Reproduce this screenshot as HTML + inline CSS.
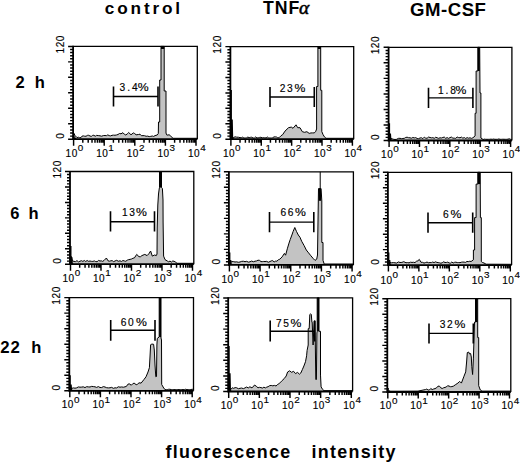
<!DOCTYPE html>
<html><head><meta charset="utf-8"><style>
html,body{margin:0;padding:0;background:#fff;width:520px;height:465px;overflow:hidden;position:relative}
</style></head><body>
<svg width="520" height="465" viewBox="0 0 520 465" style="position:absolute;left:0;top:0">
<g font-family='"Liberation Sans", sans-serif' font-weight="bold" fill="#000">
<text x="104.8" y="14" font-size="17.2" letter-spacing="2.85">control</text>
<text x="263.1" y="13.8" font-size="17.7" letter-spacing="0.9">TNF</text>
<text x="299" y="13.6" font-size="19.5" font-weight="normal" font-style="italic" stroke="#000" stroke-width="0.55" font-family="'Liberation Serif', serif">α</text>
<text x="409.9" y="15.8" font-size="18.6" letter-spacing="0.55">GM-CSF</text>
<text x="15.5" y="88" font-size="16.5">2</text><text x="34.8" y="88" font-size="16.5">h</text>
<text x="10.3" y="219.2" font-size="16.5">6</text><text x="28.6" y="219.2" font-size="16.5">h</text>
<text x="0.3" y="352.9" font-size="16.8" letter-spacing="0.8">22</text><text x="31.3" y="352.9" font-size="16.5">h</text>
<text x="165.6" y="458.3" font-size="17.9" letter-spacing="1.3">fluorescence</text>
<text x="311.4" y="458.3" font-size="17.9" letter-spacing="1.3">intensity</text>
</g>
<path d="M73.5,132.5 L75,135.5 L77,137.6 L78.33,137.21 L79.67,137.67 L81,137.6 L82.1,136.1 L83.42,135.89 L84.73,136.22 L86.05,136.24 L87.37,135.38 L88.68,135.29 L90,136 L91.3,136.39 L92.6,135.4 L93.9,135.24 L95.2,136.26 L96.5,135.4 L98.25,135.56 L100,135.8 L101.67,136.2 L103.33,135.56 L105,135.5 L106.4,135.67 L107.8,134.9 L109.2,135.58 L110.6,135.89 L112,135.3 L113.5,135.13 L115,135.26 L116.5,134.96 L118,134.5 L119.5,133.5 L121,133.8 L122.9,132.7 L124.35,134.24 L125.8,135 L127.25,133.89 L128.7,132.5 L131,134.8 L133.3,132.9 L134.7,133.55 L136.1,134.8 L138.5,134.5 L140,134.16 L141.5,135.78 L143,135.6 L144.57,135.73 L146.13,136.26 L147.7,136.1 L149.23,136.63 L150.77,136.35 L152.3,136 L153.65,136.43 L155,135.6 L157.2,135 L158.3,133.5 L158.5,122 L159.7,122 L159.7,80 L161,80 L161,46.4 L164.2,46.4 L164.2,91 L166,91 L166,133 L166.6,134.8 L168,135.2 L169,134.6 L170.7,136.1 L173,138.3 L197.3,138.3 L197.3,139.2 L73.5,139.2 Z" fill="#c3c3c3" stroke="none"/>
<path d="M73.5,132.5 L75,135.5 L77,137.6 L78.33,137.21 L79.67,137.67 L81,137.6 L82.1,136.1 L83.42,135.89 L84.73,136.22 L86.05,136.24 L87.37,135.38 L88.68,135.29 L90,136 L91.3,136.39 L92.6,135.4 L93.9,135.24 L95.2,136.26 L96.5,135.4 L98.25,135.56 L100,135.8 L101.67,136.2 L103.33,135.56 L105,135.5 L106.4,135.67 L107.8,134.9 L109.2,135.58 L110.6,135.89 L112,135.3 L113.5,135.13 L115,135.26 L116.5,134.96 L118,134.5 L119.5,133.5 L121,133.8 L122.9,132.7 L124.35,134.24 L125.8,135 L127.25,133.89 L128.7,132.5 L131,134.8 L133.3,132.9 L134.7,133.55 L136.1,134.8 L138.5,134.5 L140,134.16 L141.5,135.78 L143,135.6 L144.57,135.73 L146.13,136.26 L147.7,136.1 L149.23,136.63 L150.77,136.35 L152.3,136 L153.65,136.43 L155,135.6 L157.2,135 L158.3,133.5 L158.5,122 L159.7,122 L159.7,80 L161,80 L161,46.4 L164.2,46.4 L164.2,91 L166,91 L166,133 L166.6,134.8 L168,135.2 L169,134.6 L170.7,136.1 L173,138.3 L197.3,138.3" fill="none" stroke="#000" stroke-width="1" stroke-linejoin="round"/>
<rect x="161" y="46.4" width="3.2" height="2.6" fill="#000"/>
<path d="M72.7,135.2H74.6V137.6H75.5L75.9,138L76.7,139.2H72.7Z" fill="#000"/>
<path d="M73.1,46.4H197.3V139.2" fill="none" stroke="#000" stroke-width="1.3"/>
<path d="M73.1,45.8V139.2H197.3" fill="none" stroke="#000" stroke-width="1.8"/>
<path d="M73.1,139.2h-5 M73.1,136.11h-3 M73.1,133.01h-3 M73.1,129.92h-3 M73.1,126.83h-3 M73.1,123.73h-5 M73.1,120.64h-3 M73.1,117.55h-3 M73.1,114.45h-3 M73.1,111.36h-3 M73.1,108.27h-5 M73.1,105.17h-3 M73.1,102.08h-3 M73.1,98.99h-3 M73.1,95.89h-3 M73.1,92.8h-5 M73.1,89.71h-3 M73.1,86.61h-3 M73.1,83.52h-3 M73.1,80.43h-3 M73.1,77.33h-5 M73.1,74.24h-3 M73.1,71.15h-3 M73.1,68.05h-3 M73.1,64.96h-3 M73.1,61.87h-5 M73.1,58.77h-3 M73.1,55.68h-3 M73.1,52.59h-3 M73.1,49.49h-3 M73.1,46.4h-5 M73.6,139.2v6.5 M82.81,139.2v3.5 M88.2,139.2v3.5 M92.02,139.2v3.5 M94.99,139.2v3.5 M97.41,139.2v3.5 M99.46,139.2v3.5 M101.23,139.2v3.5 M102.8,139.2v3.5 M104.2,139.2v6.5 M113.41,139.2v3.5 M118.8,139.2v3.5 M122.62,139.2v3.5 M125.59,139.2v3.5 M128.01,139.2v3.5 M130.06,139.2v3.5 M131.83,139.2v3.5 M133.4,139.2v3.5 M134.8,139.2v6.5 M144.01,139.2v3.5 M149.4,139.2v3.5 M153.22,139.2v3.5 M156.19,139.2v3.5 M158.61,139.2v3.5 M160.66,139.2v3.5 M162.43,139.2v3.5 M164,139.2v3.5 M165.4,139.2v6.5 M174.61,139.2v3.5 M180,139.2v3.5 M183.82,139.2v3.5 M186.79,139.2v3.5 M189.21,139.2v3.5 M191.26,139.2v3.5 M193.03,139.2v3.5 M194.6,139.2v3.5 M196,139.2v6.5" stroke="#000" stroke-width="1.45" fill="none"/>
<text transform="translate(63.9,44.2) rotate(-90)" text-anchor="middle" font-family='"Liberation Sans", sans-serif' font-size="10" letter-spacing="0.6" fill="#000" stroke="#000" stroke-width="0.15">120</text>
<text transform="translate(63.9,136) rotate(-90)" text-anchor="middle" font-family='"Liberation Sans", sans-serif' font-size="10" fill="#000" stroke="#000" stroke-width="0.15">0</text>
<text x="65.6" y="156.7" font-family='"Liberation Sans", sans-serif' font-size="10" letter-spacing="0.5" fill="#000" stroke="#000" stroke-width="0.15">10<tspan dy="-5.7" font-size="9.9">0</tspan></text>
<text x="96.2" y="156.7" font-family='"Liberation Sans", sans-serif' font-size="10" letter-spacing="0.5" fill="#000" stroke="#000" stroke-width="0.15">10<tspan dy="-5.7" font-size="9.9">1</tspan></text>
<text x="126.8" y="156.7" font-family='"Liberation Sans", sans-serif' font-size="10" letter-spacing="0.5" fill="#000" stroke="#000" stroke-width="0.15">10<tspan dy="-5.7" font-size="9.9">2</tspan></text>
<text x="157.4" y="156.7" font-family='"Liberation Sans", sans-serif' font-size="10" letter-spacing="0.5" fill="#000" stroke="#000" stroke-width="0.15">10<tspan dy="-5.7" font-size="9.9">3</tspan></text>
<text x="188" y="156.7" font-family='"Liberation Sans", sans-serif' font-size="10" letter-spacing="0.5" fill="#000" stroke="#000" stroke-width="0.15">10<tspan dy="-5.7" font-size="9.9">4</tspan></text>
<path d="M113.5,86.6V106.6 M158,86.6V106.6" stroke="#000" stroke-width="1.6"/>
<path d="M113.5,96.5H158" stroke="#000" stroke-width="1.4"/>
<text x="119.5" y="90.8" font-family='"Liberation Sans", sans-serif' font-size="10.2" letter-spacing="2.0" fill="#000" stroke="#000" stroke-width="0.15">3.4</text>
<text transform="translate(137.8,90.8) scale(1.2,1)" font-family='"Liberation Sans", sans-serif' font-size="10.2" fill="#000" stroke="#000" stroke-width="0.15">%</text>
<path d="M232.5,138.3 L235,136.8 L236.67,137.17 L238.33,137.23 L240,137.6 L241.31,137.72 L242.61,137.16 L243.92,138 L245.23,138 L246.53,137.83 L247.84,137.09 L249.15,137.63 L250.45,137.34 L251.76,137.22 L253.07,138 L254.37,138 L255.68,136.92 L256.99,138 L258.29,137.75 L259.6,137.42 L260.91,137.28 L262.21,137.86 L263.52,137.54 L264.83,137.88 L266.13,137.84 L267.44,137.05 L268.75,138 L270.05,138 L271.36,138 L272.67,137.77 L273.97,136.92 L275.28,136.86 L276.59,137.05 L277.89,138 L279.2,137.6 L280.95,135.8 L282.7,134.6 L285,131.1 L288.5,127.7 L291.3,127.1 L293,128.3 L296,124.8 L297.7,127.7 L300,127.7 L302.3,131.7 L304.6,132.3 L306.9,131.7 L309.2,133.4 L310.95,132.95 L312.7,132.9 L314.15,132.9 L315.6,131.7 L316.6,129 L316.6,86.5 L317.9,86.5 L317.9,46.6 L320.7,46.6 L320.7,90.3 L321.8,90.3 L321.8,131.6 L323,134.5 L324.4,136.8 L326,138.3 L353.7,138.3 L353.7,139.2 L232.5,139.2 Z" fill="#c3c3c3" stroke="none"/>
<path d="M232.5,138.3 L235,136.8 L236.67,137.17 L238.33,137.23 L240,137.6 L241.31,137.72 L242.61,137.16 L243.92,138 L245.23,138 L246.53,137.83 L247.84,137.09 L249.15,137.63 L250.45,137.34 L251.76,137.22 L253.07,138 L254.37,138 L255.68,136.92 L256.99,138 L258.29,137.75 L259.6,137.42 L260.91,137.28 L262.21,137.86 L263.52,137.54 L264.83,137.88 L266.13,137.84 L267.44,137.05 L268.75,138 L270.05,138 L271.36,138 L272.67,137.77 L273.97,136.92 L275.28,136.86 L276.59,137.05 L277.89,138 L279.2,137.6 L280.95,135.8 L282.7,134.6 L285,131.1 L288.5,127.7 L291.3,127.1 L293,128.3 L296,124.8 L297.7,127.7 L300,127.7 L302.3,131.7 L304.6,132.3 L306.9,131.7 L309.2,133.4 L310.95,132.95 L312.7,132.9 L314.15,132.9 L315.6,131.7 L316.6,129 L316.6,86.5 L317.9,86.5 L317.9,46.6 L320.7,46.6 L320.7,90.3 L321.8,90.3 L321.8,131.6 L323,134.5 L324.4,136.8 L326,138.3 L353.7,138.3" fill="none" stroke="#000" stroke-width="1" stroke-linejoin="round"/>
<rect x="317.9" y="46.6" width="2.8" height="2.4" fill="#000"/>
<path d="M230,90H231.9V119.52H232.8L233.2,138L234,139.2H230Z" fill="#000"/>
<path d="M230.4,46.6H353.7V139.2" fill="none" stroke="#000" stroke-width="1.3"/>
<path d="M230.4,46V139.2H353.7" fill="none" stroke="#000" stroke-width="1.8"/>
<path d="M230.4,139.2h-5 M230.4,136.11h-3 M230.4,133.03h-3 M230.4,129.94h-3 M230.4,126.85h-3 M230.4,123.77h-5 M230.4,120.68h-3 M230.4,117.59h-3 M230.4,114.51h-3 M230.4,111.42h-3 M230.4,108.33h-5 M230.4,105.25h-3 M230.4,102.16h-3 M230.4,99.07h-3 M230.4,95.99h-3 M230.4,92.9h-5 M230.4,89.81h-3 M230.4,86.73h-3 M230.4,83.64h-3 M230.4,80.55h-3 M230.4,77.47h-5 M230.4,74.38h-3 M230.4,71.29h-3 M230.4,68.21h-3 M230.4,65.12h-3 M230.4,62.03h-5 M230.4,58.95h-3 M230.4,55.86h-3 M230.4,52.77h-3 M230.4,49.69h-3 M230.4,46.6h-5 M230.9,139.2v6.5 M240.04,139.2v3.5 M245.39,139.2v3.5 M249.19,139.2v3.5 M252.13,139.2v3.5 M254.54,139.2v3.5 M256.57,139.2v3.5 M258.33,139.2v3.5 M259.89,139.2v3.5 M261.27,139.2v6.5 M270.42,139.2v3.5 M275.77,139.2v3.5 M279.56,139.2v3.5 M282.51,139.2v3.5 M284.91,139.2v3.5 M286.94,139.2v3.5 M288.71,139.2v3.5 M290.26,139.2v3.5 M291.65,139.2v6.5 M300.79,139.2v3.5 M306.14,139.2v3.5 M309.94,139.2v3.5 M312.88,139.2v3.5 M315.29,139.2v3.5 M317.32,139.2v3.5 M319.08,139.2v3.5 M320.64,139.2v3.5 M322.02,139.2v6.5 M331.17,139.2v3.5 M336.52,139.2v3.5 M340.31,139.2v3.5 M343.26,139.2v3.5 M345.66,139.2v3.5 M347.69,139.2v3.5 M349.46,139.2v3.5 M351.01,139.2v3.5 M352.4,139.2v6.5" stroke="#000" stroke-width="1.45" fill="none"/>
<text transform="translate(221.2,44.4) rotate(-90)" text-anchor="middle" font-family='"Liberation Sans", sans-serif' font-size="10" letter-spacing="0.6" fill="#000" stroke="#000" stroke-width="0.15">120</text>
<text transform="translate(221.2,136) rotate(-90)" text-anchor="middle" font-family='"Liberation Sans", sans-serif' font-size="10" fill="#000" stroke="#000" stroke-width="0.15">0</text>
<text x="222.9" y="156.7" font-family='"Liberation Sans", sans-serif' font-size="10" letter-spacing="0.5" fill="#000" stroke="#000" stroke-width="0.15">10<tspan dy="-5.7" font-size="9.9">0</tspan></text>
<text x="253.27" y="156.7" font-family='"Liberation Sans", sans-serif' font-size="10" letter-spacing="0.5" fill="#000" stroke="#000" stroke-width="0.15">10<tspan dy="-5.7" font-size="9.9">1</tspan></text>
<text x="283.65" y="156.7" font-family='"Liberation Sans", sans-serif' font-size="10" letter-spacing="0.5" fill="#000" stroke="#000" stroke-width="0.15">10<tspan dy="-5.7" font-size="9.9">2</tspan></text>
<text x="314.02" y="156.7" font-family='"Liberation Sans", sans-serif' font-size="10" letter-spacing="0.5" fill="#000" stroke="#000" stroke-width="0.15">10<tspan dy="-5.7" font-size="9.9">3</tspan></text>
<text x="344.4" y="156.7" font-family='"Liberation Sans", sans-serif' font-size="10" letter-spacing="0.5" fill="#000" stroke="#000" stroke-width="0.15">10<tspan dy="-5.7" font-size="9.9">4</tspan></text>
<path d="M270,87.1V107.1 M314.3,87.1V107.1" stroke="#000" stroke-width="1.6"/>
<path d="M270,97H314.3" stroke="#000" stroke-width="1.4"/>
<text x="279.8" y="91.8" font-family='"Liberation Sans", sans-serif' font-size="10.2" letter-spacing="1.6" fill="#000" stroke="#000" stroke-width="0.15">23</text>
<text transform="translate(294.6,91.8) scale(1.2,1)" font-family='"Liberation Sans", sans-serif' font-size="10.2" fill="#000" stroke="#000" stroke-width="0.15">%</text>
<path d="M391,138.5 L392.33,138.87 L393.67,139.3 L395,139.5 L396.67,139.3 L398.33,138.38 L400,138.3 L401.43,138.63 L402.86,138.46 L404.29,138.33 L405.71,137.43 L407.14,137.23 L408.57,137.7 L410,137.8 L411.43,138.2 L412.86,137.49 L414.29,137.89 L415.71,137.64 L417.14,138.46 L418.57,138.64 L420,138 L421.43,137.78 L422.86,138.6 L424.29,137.13 L425.71,138.18 L427.14,138.21 L428.57,137.05 L430,137.5 L431.43,137.85 L432.86,137.67 L434.29,138.31 L435.71,137.24 L437.14,137.77 L438.57,138.33 L440,137.8 L441.43,137.98 L442.86,137.46 L444.29,137.09 L445.71,138.35 L447.14,137.62 L448.57,138.37 L450,137.6 L451.43,137.09 L452.86,138.13 L454.29,138.16 L455.71,138.34 L457.14,137.02 L458.57,137.58 L460,137.8 L461.43,137.13 L462.86,138.18 L464.29,137.58 L465.71,138.49 L467.14,137.61 L468.57,138.21 L470,137.8 L471.45,138.35 L472.9,137.8 L475.1,135.9 L475.1,113.3 L476.1,113.3 L476.1,71 L477.8,71 L477.8,47.3 L479.7,47.3 L480,93 L480.9,93 L480.9,138 L483.1,139.5 L484.41,139.11 L485.72,139.3 L487.03,139.3 L488.34,139.3 L489.65,139.29 L490.95,139.15 L492.26,139.3 L493.57,139.04 L494.88,139.3 L496.19,139.3 L497.5,139.3 L498.81,138.94 L500.12,139.3 L501.43,139.3 L502.74,139.23 L504.05,139.25 L505.35,139.3 L506.66,139.3 L507.97,139.16 L509.28,138.76 L510.59,139.3 L511.9,139.5 L511.9,140.5 L391,140.5 Z" fill="#c3c3c3" stroke="none"/>
<path d="M391,138.5 L392.33,138.87 L393.67,139.3 L395,139.5 L396.67,139.3 L398.33,138.38 L400,138.3 L401.43,138.63 L402.86,138.46 L404.29,138.33 L405.71,137.43 L407.14,137.23 L408.57,137.7 L410,137.8 L411.43,138.2 L412.86,137.49 L414.29,137.89 L415.71,137.64 L417.14,138.46 L418.57,138.64 L420,138 L421.43,137.78 L422.86,138.6 L424.29,137.13 L425.71,138.18 L427.14,138.21 L428.57,137.05 L430,137.5 L431.43,137.85 L432.86,137.67 L434.29,138.31 L435.71,137.24 L437.14,137.77 L438.57,138.33 L440,137.8 L441.43,137.98 L442.86,137.46 L444.29,137.09 L445.71,138.35 L447.14,137.62 L448.57,138.37 L450,137.6 L451.43,137.09 L452.86,138.13 L454.29,138.16 L455.71,138.34 L457.14,137.02 L458.57,137.58 L460,137.8 L461.43,137.13 L462.86,138.18 L464.29,137.58 L465.71,138.49 L467.14,137.61 L468.57,138.21 L470,137.8 L471.45,138.35 L472.9,137.8 L475.1,135.9 L475.1,113.3 L476.1,113.3 L476.1,71 L477.8,71 L477.8,47.3 L479.7,47.3 L480,93 L480.9,93 L480.9,138 L483.1,139.5 L484.41,139.11 L485.72,139.3 L487.03,139.3 L488.34,139.3 L489.65,139.29 L490.95,139.15 L492.26,139.3 L493.57,139.04 L494.88,139.3 L496.19,139.3 L497.5,139.3 L498.81,138.94 L500.12,139.3 L501.43,139.3 L502.74,139.23 L504.05,139.25 L505.35,139.3 L506.66,139.3 L507.97,139.16 L509.28,138.76 L510.59,139.3 L511.9,139.5" fill="none" stroke="#000" stroke-width="1" stroke-linejoin="round"/>
<rect x="477.9" y="47.3" width="1.8" height="23.7" fill="#000"/>
<path d="M388.2,123.3H390.1V133.62H391L391.4,139.3L392.2,140.5H388.2Z" fill="#000"/>
<path d="M388.6,47.3H511.9V140.5" fill="none" stroke="#000" stroke-width="1.3"/>
<path d="M388.6,46.7V140.5H511.9" fill="none" stroke="#000" stroke-width="1.8"/>
<path d="M388.6,140.5h-5 M388.6,137.39h-3 M388.6,134.29h-3 M388.6,131.18h-3 M388.6,128.07h-3 M388.6,124.97h-5 M388.6,121.86h-3 M388.6,118.75h-3 M388.6,115.65h-3 M388.6,112.54h-3 M388.6,109.43h-5 M388.6,106.33h-3 M388.6,103.22h-3 M388.6,100.11h-3 M388.6,97.01h-3 M388.6,93.9h-5 M388.6,90.79h-3 M388.6,87.69h-3 M388.6,84.58h-3 M388.6,81.47h-3 M388.6,78.37h-5 M388.6,75.26h-3 M388.6,72.15h-3 M388.6,69.05h-3 M388.6,65.94h-3 M388.6,62.83h-5 M388.6,59.73h-3 M388.6,56.62h-3 M388.6,53.51h-3 M388.6,50.41h-3 M388.6,47.3h-5 M389.1,140.5v6.5 M398.24,140.5v3.5 M403.59,140.5v3.5 M407.39,140.5v3.5 M410.33,140.5v3.5 M412.74,140.5v3.5 M414.77,140.5v3.5 M416.53,140.5v3.5 M418.09,140.5v3.5 M419.48,140.5v6.5 M428.62,140.5v3.5 M433.97,140.5v3.5 M437.76,140.5v3.5 M440.71,140.5v3.5 M443.11,140.5v3.5 M445.14,140.5v3.5 M446.91,140.5v3.5 M448.46,140.5v3.5 M449.85,140.5v6.5 M458.99,140.5v3.5 M464.34,140.5v3.5 M468.14,140.5v3.5 M471.08,140.5v3.5 M473.49,140.5v3.5 M475.52,140.5v3.5 M477.28,140.5v3.5 M478.84,140.5v3.5 M480.22,140.5v6.5 M489.37,140.5v3.5 M494.72,140.5v3.5 M498.51,140.5v3.5 M501.46,140.5v3.5 M503.86,140.5v3.5 M505.89,140.5v3.5 M507.66,140.5v3.5 M509.21,140.5v3.5 M510.6,140.5v6.5" stroke="#000" stroke-width="1.45" fill="none"/>
<text transform="translate(379.4,45.1) rotate(-90)" text-anchor="middle" font-family='"Liberation Sans", sans-serif' font-size="10" letter-spacing="0.6" fill="#000" stroke="#000" stroke-width="0.15">120</text>
<text transform="translate(379.4,137.3) rotate(-90)" text-anchor="middle" font-family='"Liberation Sans", sans-serif' font-size="10" fill="#000" stroke="#000" stroke-width="0.15">0</text>
<text x="381.1" y="158" font-family='"Liberation Sans", sans-serif' font-size="10" letter-spacing="0.5" fill="#000" stroke="#000" stroke-width="0.15">10<tspan dy="-5.7" font-size="9.9">0</tspan></text>
<text x="411.48" y="158" font-family='"Liberation Sans", sans-serif' font-size="10" letter-spacing="0.5" fill="#000" stroke="#000" stroke-width="0.15">10<tspan dy="-5.7" font-size="9.9">1</tspan></text>
<text x="441.85" y="158" font-family='"Liberation Sans", sans-serif' font-size="10" letter-spacing="0.5" fill="#000" stroke="#000" stroke-width="0.15">10<tspan dy="-5.7" font-size="9.9">2</tspan></text>
<text x="472.22" y="158" font-family='"Liberation Sans", sans-serif' font-size="10" letter-spacing="0.5" fill="#000" stroke="#000" stroke-width="0.15">10<tspan dy="-5.7" font-size="9.9">3</tspan></text>
<text x="502.6" y="158" font-family='"Liberation Sans", sans-serif' font-size="10" letter-spacing="0.5" fill="#000" stroke="#000" stroke-width="0.15">10<tspan dy="-5.7" font-size="9.9">4</tspan></text>
<path d="M428.5,87.8V108 M472.9,87.8V108" stroke="#000" stroke-width="1.6"/>
<path d="M428.5,97.9H472.9" stroke="#000" stroke-width="1.4"/>
<text x="438.1" y="93.8" font-family='"Liberation Sans", sans-serif' font-size="10.2" letter-spacing="1.8" fill="#000" stroke="#000" stroke-width="0.15">1.8</text>
<text transform="translate(455.5,93.8) scale(1.2,1)" font-family='"Liberation Sans", sans-serif' font-size="10.2" fill="#000" stroke="#000" stroke-width="0.15">%</text>
<path d="M71,256 L72.5,261 L74,261.36 L75.5,261.59 L77,260.64 L78.5,261.91 L80,261.2 L81.43,260.71 L82.86,261.4 L84.29,260.5 L85.71,261.47 L87.14,260.53 L88.57,261.34 L90,261 L91.43,261.34 L92.86,261.4 L94.29,260.91 L95.71,261.55 L97.14,261.73 L98.57,260.42 L100,261 L101.33,260.86 L102.67,261.35 L104,260.5 L106.4,258 L108,260.8 L109.4,261.2 L110.8,260.8 L112.2,260.63 L113.6,261.64 L115,261 L116.67,260.31 L118.33,261.26 L120,260.8 L121.45,261.44 L122.9,260.54 L124.35,260.92 L125.8,261.3 L127.25,260.16 L128.7,259.6 L130.1,259.36 L131.5,259 L132.95,258.25 L134.4,257.9 L136.7,254.4 L139,256.7 L140.45,256.74 L141.9,255.6 L144.8,254.4 L147.1,255.6 L148.8,253.8 L150.6,251 L152.3,256.1 L154.6,255 L156.3,255.6 L157,254 L157.2,228 L157.8,205 L158.5,194 L159.2,189 L159.5,187.4 L159.5,171.5 L161.5,171.5 L161.5,187.4 L162.4,188.5 L163,200 L163.1,222 L163.6,256.1 L165,259.6 L167.3,261 L168.65,261.8 L170,261.06 L171.35,262.09 L172.7,261.02 L174.05,261.23 L175.4,262 L177,263.3 L193.8,263.3 L193.8,264.2 L71,264.2 Z" fill="#c3c3c3" stroke="none"/>
<path d="M71,256 L72.5,261 L74,261.36 L75.5,261.59 L77,260.64 L78.5,261.91 L80,261.2 L81.43,260.71 L82.86,261.4 L84.29,260.5 L85.71,261.47 L87.14,260.53 L88.57,261.34 L90,261 L91.43,261.34 L92.86,261.4 L94.29,260.91 L95.71,261.55 L97.14,261.73 L98.57,260.42 L100,261 L101.33,260.86 L102.67,261.35 L104,260.5 L106.4,258 L108,260.8 L109.4,261.2 L110.8,260.8 L112.2,260.63 L113.6,261.64 L115,261 L116.67,260.31 L118.33,261.26 L120,260.8 L121.45,261.44 L122.9,260.54 L124.35,260.92 L125.8,261.3 L127.25,260.16 L128.7,259.6 L130.1,259.36 L131.5,259 L132.95,258.25 L134.4,257.9 L136.7,254.4 L139,256.7 L140.45,256.74 L141.9,255.6 L144.8,254.4 L147.1,255.6 L148.8,253.8 L150.6,251 L152.3,256.1 L154.6,255 L156.3,255.6 L157,254 L157.2,228 L157.8,205 L158.5,194 L159.2,189 L159.5,187.4 L159.5,171.5 L161.5,171.5 L161.5,187.4 L162.4,188.5 L163,200 L163.1,222 L163.6,256.1 L165,259.6 L167.3,261 L168.65,261.8 L170,261.06 L171.35,262.09 L172.7,261.02 L174.05,261.23 L175.4,262 L177,263.3 L193.8,263.3" fill="none" stroke="#000" stroke-width="1" stroke-linejoin="round"/>
<rect x="159.5" y="171.5" width="2" height="16.1" fill="#000"/>
<path d="M69.6,246H71.5V256.92H72.4L72.8,263L73.6,264.2H69.6Z" fill="#000"/>
<path d="M70,171.5H193.8V264.2" fill="none" stroke="#000" stroke-width="1.3"/>
<path d="M70,170.9V264.2H193.8" fill="none" stroke="#000" stroke-width="1.8"/>
<path d="M70,264.2h-5 M70,261.11h-3 M70,258.02h-3 M70,254.93h-3 M70,251.84h-3 M70,248.75h-5 M70,245.66h-3 M70,242.57h-3 M70,239.48h-3 M70,236.39h-3 M70,233.3h-5 M70,230.21h-3 M70,227.12h-3 M70,224.03h-3 M70,220.94h-3 M70,217.85h-5 M70,214.76h-3 M70,211.67h-3 M70,208.58h-3 M70,205.49h-3 M70,202.4h-5 M70,199.31h-3 M70,196.22h-3 M70,193.13h-3 M70,190.04h-3 M70,186.95h-5 M70,183.86h-3 M70,180.77h-3 M70,177.68h-3 M70,174.59h-3 M70,171.5h-5 M70.5,264.2v6.5 M79.68,264.2v3.5 M85.05,264.2v3.5 M88.86,264.2v3.5 M91.82,264.2v3.5 M94.23,264.2v3.5 M96.28,264.2v3.5 M98.04,264.2v3.5 M99.6,264.2v3.5 M101,264.2v6.5 M110.18,264.2v3.5 M115.55,264.2v3.5 M119.36,264.2v3.5 M122.32,264.2v3.5 M124.73,264.2v3.5 M126.78,264.2v3.5 M128.54,264.2v3.5 M130.1,264.2v3.5 M131.5,264.2v6.5 M140.68,264.2v3.5 M146.05,264.2v3.5 M149.86,264.2v3.5 M152.82,264.2v3.5 M155.23,264.2v3.5 M157.28,264.2v3.5 M159.04,264.2v3.5 M160.6,264.2v3.5 M162,264.2v6.5 M171.18,264.2v3.5 M176.55,264.2v3.5 M180.36,264.2v3.5 M183.32,264.2v3.5 M185.73,264.2v3.5 M187.78,264.2v3.5 M189.54,264.2v3.5 M191.1,264.2v3.5 M192.5,264.2v6.5" stroke="#000" stroke-width="1.45" fill="none"/>
<text transform="translate(60.8,169.3) rotate(-90)" text-anchor="middle" font-family='"Liberation Sans", sans-serif' font-size="10" letter-spacing="0.6" fill="#000" stroke="#000" stroke-width="0.15">120</text>
<text transform="translate(60.8,261) rotate(-90)" text-anchor="middle" font-family='"Liberation Sans", sans-serif' font-size="10" fill="#000" stroke="#000" stroke-width="0.15">0</text>
<text x="62.5" y="281.6" font-family='"Liberation Sans", sans-serif' font-size="10" letter-spacing="0.5" fill="#000" stroke="#000" stroke-width="0.15">10<tspan dy="-5.7" font-size="9.9">0</tspan></text>
<text x="93" y="281.6" font-family='"Liberation Sans", sans-serif' font-size="10" letter-spacing="0.5" fill="#000" stroke="#000" stroke-width="0.15">10<tspan dy="-5.7" font-size="9.9">1</tspan></text>
<text x="123.5" y="281.6" font-family='"Liberation Sans", sans-serif' font-size="10" letter-spacing="0.5" fill="#000" stroke="#000" stroke-width="0.15">10<tspan dy="-5.7" font-size="9.9">2</tspan></text>
<text x="154" y="281.6" font-family='"Liberation Sans", sans-serif' font-size="10" letter-spacing="0.5" fill="#000" stroke="#000" stroke-width="0.15">10<tspan dy="-5.7" font-size="9.9">3</tspan></text>
<text x="184.5" y="281.6" font-family='"Liberation Sans", sans-serif' font-size="10" letter-spacing="0.5" fill="#000" stroke="#000" stroke-width="0.15">10<tspan dy="-5.7" font-size="9.9">4</tspan></text>
<path d="M110.5,211.2V231.5 M154.5,211.2V231.5" stroke="#000" stroke-width="1.6"/>
<path d="M110.5,221.75H154.5" stroke="#000" stroke-width="1.4"/>
<text x="122.1" y="216.1" font-family='"Liberation Sans", sans-serif' font-size="10.2" letter-spacing="1.6" fill="#000" stroke="#000" stroke-width="0.15">13</text>
<text transform="translate(135.9,216.1) scale(1.2,1)" font-family='"Liberation Sans", sans-serif' font-size="10.2" fill="#000" stroke="#000" stroke-width="0.15">%</text>
<path d="M230,262.5 L231.67,261.6 L233.33,261.59 L235,262 L236.67,261.84 L238.33,262.28 L240,262 L241.67,261.36 L243.33,261.22 L245,261.7 L246.67,261.33 L248.33,262.15 L250,261.8 L251.67,261.07 L253.33,261.76 L255,261.2 L256.5,260.94 L258,260.2 L259.5,260.35 L261,261.6 L262.33,261.62 L263.67,261.45 L265,261.5 L266.67,261.37 L268.33,262.24 L270,261.5 L271.38,260.83 L272.76,260.66 L274.14,261.98 L275.52,261.11 L276.9,261.2 L278.35,259.75 L279.8,259.2 L282.1,256.9 L284.4,253.4 L285.6,255.2 L287.3,248.8 L289,243.1 L290.2,239.6 L291.9,235 L293.1,231.5 L294.8,227.5 L296.5,231.5 L298.3,235 L300,237.3 L301.7,241.3 L304,245.4 L306.3,250 L308.6,252.9 L310.9,255.8 L313.3,258.6 L315,260.4 L316.7,259.2 L317.5,255 L318.3,201 L318.5,188.6 L321.1,188.6 L321.8,201 L321.8,242.5 L323,242.5 L323,260.4 L324.2,264 L353.4,264 L353.4,264.9 L230,264.9 Z" fill="#c3c3c3" stroke="none"/>
<path d="M230,262.5 L231.67,261.6 L233.33,261.59 L235,262 L236.67,261.84 L238.33,262.28 L240,262 L241.67,261.36 L243.33,261.22 L245,261.7 L246.67,261.33 L248.33,262.15 L250,261.8 L251.67,261.07 L253.33,261.76 L255,261.2 L256.5,260.94 L258,260.2 L259.5,260.35 L261,261.6 L262.33,261.62 L263.67,261.45 L265,261.5 L266.67,261.37 L268.33,262.24 L270,261.5 L271.38,260.83 L272.76,260.66 L274.14,261.98 L275.52,261.11 L276.9,261.2 L278.35,259.75 L279.8,259.2 L282.1,256.9 L284.4,253.4 L285.6,255.2 L287.3,248.8 L289,243.1 L290.2,239.6 L291.9,235 L293.1,231.5 L294.8,227.5 L296.5,231.5 L298.3,235 L300,237.3 L301.7,241.3 L304,245.4 L306.3,250 L308.6,252.9 L310.9,255.8 L313.3,258.6 L315,260.4 L316.7,259.2 L317.5,255 L318.3,201 L318.5,188.6 L321.1,188.6 L321.8,201 L321.8,242.5 L323,242.5 L323,260.4 L324.2,264 L353.4,264" fill="none" stroke="#000" stroke-width="1" stroke-linejoin="round"/>
<rect x="318.7" y="188.6" width="2.3" height="12.2" fill="#000"/>
<rect x="319.7" y="171.8" width="1" height="16.8" fill="#000"/>
<path d="M228.5,252.5H230.4V259.94H231.3L231.7,263.7L232.5,264.9H228.5Z" fill="#000"/>
<path d="M228.9,171.8H353.4V264.9" fill="none" stroke="#000" stroke-width="1.3"/>
<path d="M228.9,171.2V264.9H353.4" fill="none" stroke="#000" stroke-width="1.8"/>
<path d="M228.9,264.9h-5 M228.9,261.8h-3 M228.9,258.69h-3 M228.9,255.59h-3 M228.9,252.49h-3 M228.9,249.38h-5 M228.9,246.28h-3 M228.9,243.18h-3 M228.9,240.07h-3 M228.9,236.97h-3 M228.9,233.87h-5 M228.9,230.76h-3 M228.9,227.66h-3 M228.9,224.56h-3 M228.9,221.45h-3 M228.9,218.35h-5 M228.9,215.25h-3 M228.9,212.14h-3 M228.9,209.04h-3 M228.9,205.94h-3 M228.9,202.83h-5 M228.9,199.73h-3 M228.9,196.63h-3 M228.9,193.52h-3 M228.9,190.42h-3 M228.9,187.32h-5 M228.9,184.21h-3 M228.9,181.11h-3 M228.9,178.01h-3 M228.9,174.9h-3 M228.9,171.8h-5 M229.4,264.9v6.5 M238.63,264.9v3.5 M244.04,264.9v3.5 M247.87,264.9v3.5 M250.84,264.9v3.5 M253.27,264.9v3.5 M255.32,264.9v3.5 M257.1,264.9v3.5 M258.67,264.9v3.5 M260.07,264.9v6.5 M269.31,264.9v3.5 M274.71,264.9v3.5 M278.54,264.9v3.5 M281.52,264.9v3.5 M283.94,264.9v3.5 M286,264.9v3.5 M287.78,264.9v3.5 M289.35,264.9v3.5 M290.75,264.9v6.5 M299.98,264.9v3.5 M305.39,264.9v3.5 M309.22,264.9v3.5 M312.19,264.9v3.5 M314.62,264.9v3.5 M316.67,264.9v3.5 M318.45,264.9v3.5 M320.02,264.9v3.5 M321.42,264.9v6.5 M330.66,264.9v3.5 M336.06,264.9v3.5 M339.89,264.9v3.5 M342.87,264.9v3.5 M345.29,264.9v3.5 M347.35,264.9v3.5 M349.13,264.9v3.5 M350.7,264.9v3.5 M352.1,264.9v6.5" stroke="#000" stroke-width="1.45" fill="none"/>
<text transform="translate(219.7,169.6) rotate(-90)" text-anchor="middle" font-family='"Liberation Sans", sans-serif' font-size="10" letter-spacing="0.6" fill="#000" stroke="#000" stroke-width="0.15">120</text>
<text transform="translate(219.7,261.7) rotate(-90)" text-anchor="middle" font-family='"Liberation Sans", sans-serif' font-size="10" fill="#000" stroke="#000" stroke-width="0.15">0</text>
<text x="221.4" y="283.1" font-family='"Liberation Sans", sans-serif' font-size="10" letter-spacing="0.5" fill="#000" stroke="#000" stroke-width="0.15">10<tspan dy="-5.7" font-size="9.9">0</tspan></text>
<text x="252.07" y="283.1" font-family='"Liberation Sans", sans-serif' font-size="10" letter-spacing="0.5" fill="#000" stroke="#000" stroke-width="0.15">10<tspan dy="-5.7" font-size="9.9">1</tspan></text>
<text x="282.75" y="283.1" font-family='"Liberation Sans", sans-serif' font-size="10" letter-spacing="0.5" fill="#000" stroke="#000" stroke-width="0.15">10<tspan dy="-5.7" font-size="9.9">2</tspan></text>
<text x="313.42" y="283.1" font-family='"Liberation Sans", sans-serif' font-size="10" letter-spacing="0.5" fill="#000" stroke="#000" stroke-width="0.15">10<tspan dy="-5.7" font-size="9.9">3</tspan></text>
<text x="344.1" y="283.1" font-family='"Liberation Sans", sans-serif' font-size="10" letter-spacing="0.5" fill="#000" stroke="#000" stroke-width="0.15">10<tspan dy="-5.7" font-size="9.9">4</tspan></text>
<path d="M269.5,212V232.3 M313.8,212V232.3" stroke="#000" stroke-width="1.6"/>
<path d="M269.5,222.1H313.8" stroke="#000" stroke-width="1.4"/>
<text x="280.5" y="215.8" font-family='"Liberation Sans", sans-serif' font-size="10.2" letter-spacing="1.6" fill="#000" stroke="#000" stroke-width="0.15">66</text>
<text transform="translate(294.9,215.8) scale(1.2,1)" font-family='"Liberation Sans", sans-serif' font-size="10.2" fill="#000" stroke="#000" stroke-width="0.15">%</text>
<path d="M390,262.5 L391.67,262.81 L393.33,262.59 L395,262.8 L396.67,263.04 L398.33,261.95 L400,262.5 L401.9,262.4 L403.8,261.7 L406,262.8 L407.5,262.58 L409,262.9 L410.5,262.21 L412,262.43 L413.5,262.28 L415,262.6 L416.43,261.28 L417.87,260.81 L419.3,259.4 L421,262.3 L422.5,262.31 L424,263.09 L425.5,262.57 L427,262.08 L428.5,262.72 L430,262.6 L431.36,262.63 L432.73,262.04 L434.09,262.61 L435.45,261.83 L436.82,262.37 L438.18,262.6 L439.55,262.82 L440.91,263.22 L442.27,262.69 L443.64,261.8 L445,262.5 L446.36,262.48 L447.73,262.16 L449.09,262.93 L450.45,263.16 L451.82,261.97 L453.18,263.02 L454.55,262.32 L455.91,262.17 L457.27,262.59 L458.64,262.56 L460,262.7 L461.39,262.23 L462.77,262.05 L464.16,262.15 L465.55,262.38 L466.94,261.45 L468.33,261.61 L469.71,261.26 L471.1,261.5 L473.4,259.8 L473.4,250 L474.6,250 L474.6,217.6 L476.1,217.6 L476.1,184.1 L477.8,184.1 L477.8,172.3 L480.2,172.3 L480.4,217.6 L481.3,217.6 L481.3,261.5 L482.65,262.59 L484,263 L486.1,264.2 L511.6,264.3 L511.6,265.1 L390,265.1 Z" fill="#c3c3c3" stroke="none"/>
<path d="M390,262.5 L391.67,262.81 L393.33,262.59 L395,262.8 L396.67,263.04 L398.33,261.95 L400,262.5 L401.9,262.4 L403.8,261.7 L406,262.8 L407.5,262.58 L409,262.9 L410.5,262.21 L412,262.43 L413.5,262.28 L415,262.6 L416.43,261.28 L417.87,260.81 L419.3,259.4 L421,262.3 L422.5,262.31 L424,263.09 L425.5,262.57 L427,262.08 L428.5,262.72 L430,262.6 L431.36,262.63 L432.73,262.04 L434.09,262.61 L435.45,261.83 L436.82,262.37 L438.18,262.6 L439.55,262.82 L440.91,263.22 L442.27,262.69 L443.64,261.8 L445,262.5 L446.36,262.48 L447.73,262.16 L449.09,262.93 L450.45,263.16 L451.82,261.97 L453.18,263.02 L454.55,262.32 L455.91,262.17 L457.27,262.59 L458.64,262.56 L460,262.7 L461.39,262.23 L462.77,262.05 L464.16,262.15 L465.55,262.38 L466.94,261.45 L468.33,261.61 L469.71,261.26 L471.1,261.5 L473.4,259.8 L473.4,250 L474.6,250 L474.6,217.6 L476.1,217.6 L476.1,184.1 L477.8,184.1 L477.8,172.3 L480.2,172.3 L480.4,217.6 L481.3,217.6 L481.3,261.5 L482.65,262.59 L484,263 L486.1,264.2 L511.6,264.3" fill="none" stroke="#000" stroke-width="1" stroke-linejoin="round"/>
<rect x="477.8" y="172.3" width="2.4" height="11.8" fill="#000"/>
<path d="M387.5,252.5H389.4V260.06H390.3L390.7,263.9L391.5,265.1H387.5Z" fill="#000"/>
<path d="M387.9,172.3H511.6V265.1" fill="none" stroke="#000" stroke-width="1.3"/>
<path d="M387.9,171.7V265.1H511.6" fill="none" stroke="#000" stroke-width="1.8"/>
<path d="M387.9,265.1h-5 M387.9,262.01h-3 M387.9,258.91h-3 M387.9,255.82h-3 M387.9,252.73h-3 M387.9,249.63h-5 M387.9,246.54h-3 M387.9,243.45h-3 M387.9,240.35h-3 M387.9,237.26h-3 M387.9,234.17h-5 M387.9,231.07h-3 M387.9,227.98h-3 M387.9,224.89h-3 M387.9,221.79h-3 M387.9,218.7h-5 M387.9,215.61h-3 M387.9,212.51h-3 M387.9,209.42h-3 M387.9,206.33h-3 M387.9,203.23h-5 M387.9,200.14h-3 M387.9,197.05h-3 M387.9,193.95h-3 M387.9,190.86h-3 M387.9,187.77h-5 M387.9,184.67h-3 M387.9,181.58h-3 M387.9,178.49h-3 M387.9,175.39h-3 M387.9,172.3h-5 M388.4,265.1v6.5 M397.57,265.1v3.5 M402.94,265.1v3.5 M406.75,265.1v3.5 M409.7,265.1v3.5 M412.11,265.1v3.5 M414.15,265.1v3.5 M415.92,265.1v3.5 M417.48,265.1v3.5 M418.88,265.1v6.5 M428.05,265.1v3.5 M433.42,265.1v3.5 M437.22,265.1v3.5 M440.18,265.1v3.5 M442.59,265.1v3.5 M444.63,265.1v3.5 M446.4,265.1v3.5 M447.96,265.1v3.5 M449.35,265.1v6.5 M458.52,265.1v3.5 M463.89,265.1v3.5 M467.7,265.1v3.5 M470.65,265.1v3.5 M473.06,265.1v3.5 M475.1,265.1v3.5 M476.87,265.1v3.5 M478.43,265.1v3.5 M479.82,265.1v6.5 M489,265.1v3.5 M494.37,265.1v3.5 M498.17,265.1v3.5 M501.13,265.1v3.5 M503.54,265.1v3.5 M505.58,265.1v3.5 M507.35,265.1v3.5 M508.91,265.1v3.5 M510.3,265.1v6.5" stroke="#000" stroke-width="1.45" fill="none"/>
<text transform="translate(378.7,170.1) rotate(-90)" text-anchor="middle" font-family='"Liberation Sans", sans-serif' font-size="10" letter-spacing="0.6" fill="#000" stroke="#000" stroke-width="0.15">120</text>
<text transform="translate(378.7,261.9) rotate(-90)" text-anchor="middle" font-family='"Liberation Sans", sans-serif' font-size="10" fill="#000" stroke="#000" stroke-width="0.15">0</text>
<text x="380.4" y="283.6" font-family='"Liberation Sans", sans-serif' font-size="10" letter-spacing="0.5" fill="#000" stroke="#000" stroke-width="0.15">10<tspan dy="-5.7" font-size="9.9">0</tspan></text>
<text x="410.88" y="283.6" font-family='"Liberation Sans", sans-serif' font-size="10" letter-spacing="0.5" fill="#000" stroke="#000" stroke-width="0.15">10<tspan dy="-5.7" font-size="9.9">1</tspan></text>
<text x="441.35" y="283.6" font-family='"Liberation Sans", sans-serif' font-size="10" letter-spacing="0.5" fill="#000" stroke="#000" stroke-width="0.15">10<tspan dy="-5.7" font-size="9.9">2</tspan></text>
<text x="471.82" y="283.6" font-family='"Liberation Sans", sans-serif' font-size="10" letter-spacing="0.5" fill="#000" stroke="#000" stroke-width="0.15">10<tspan dy="-5.7" font-size="9.9">3</tspan></text>
<text x="502.3" y="283.6" font-family='"Liberation Sans", sans-serif' font-size="10" letter-spacing="0.5" fill="#000" stroke="#000" stroke-width="0.15">10<tspan dy="-5.7" font-size="9.9">4</tspan></text>
<path d="M428,212.5V232.7 M472.7,212.5V232.7" stroke="#000" stroke-width="1.6"/>
<path d="M428,222.8H472.7" stroke="#000" stroke-width="1.4"/>
<text x="443.1" y="217.8" font-family='"Liberation Sans", sans-serif' font-size="10.2" letter-spacing="1.6" fill="#000" stroke="#000" stroke-width="0.15">6</text>
<text transform="translate(450.6,217.8) scale(1.2,1)" font-family='"Liberation Sans", sans-serif' font-size="10.2" fill="#000" stroke="#000" stroke-width="0.15">%</text>
<path d="M72,388.3 L73.5,387.91 L75,388.2 L76.67,387.85 L78.33,386.91 L80,387.2 L81.67,387.09 L83.33,386.83 L85,387.6 L86.67,386.67 L88.33,386.88 L90,387 L91.67,386.36 L93.33,386.58 L95,386.8 L96.67,387.4 L98.33,386.57 L100,387.5 L101.67,387.52 L103.33,386.62 L105,387 L106.67,387.71 L108.33,387.89 L110,387.8 L111.67,387.37 L113.33,388.32 L115,387.8 L116.67,387.93 L118.33,386.76 L120,387.2 L121.67,386.93 L123.33,387.23 L125,386.8 L126.4,386.43 L127.8,384.31 L129.2,383.8 L131.3,385.2 L132.7,383.78 L134.1,383.1 L136.2,384.7 L137.6,384.16 L139,382.8 L141.1,383.1 L143.9,379.6 L146,376.8 L148,372 L149.4,367.7 L150.1,355 L150.6,345 L151.5,344 L153.6,344.3 L154.3,350 L155,365 L155.8,376.8 L156.5,376.5 L156.9,345 L157.3,338.4 L159.2,337 L159.2,297.6 L161,297.6 L161,338 L161.5,340 L161.7,384.5 L164.1,388.7 L166,389.9 L167.31,389.6 L168.62,389.29 L169.93,389.28 L171.24,389.6 L172.55,389.6 L173.86,389.6 L175.17,389.6 L176.48,389.6 L177.79,389.6 L179.1,389.6 L180.4,389.6 L181.71,389.6 L183.02,389.6 L184.33,389.6 L185.64,389.24 L186.95,389.6 L188.26,389.6 L189.57,389.6 L190.88,389.6 L192.19,389.18 L193.5,389.9 L193.5,390.8 L72,390.8 Z" fill="#c3c3c3" stroke="none"/>
<path d="M72,388.3 L73.5,387.91 L75,388.2 L76.67,387.85 L78.33,386.91 L80,387.2 L81.67,387.09 L83.33,386.83 L85,387.6 L86.67,386.67 L88.33,386.88 L90,387 L91.67,386.36 L93.33,386.58 L95,386.8 L96.67,387.4 L98.33,386.57 L100,387.5 L101.67,387.52 L103.33,386.62 L105,387 L106.67,387.71 L108.33,387.89 L110,387.8 L111.67,387.37 L113.33,388.32 L115,387.8 L116.67,387.93 L118.33,386.76 L120,387.2 L121.67,386.93 L123.33,387.23 L125,386.8 L126.4,386.43 L127.8,384.31 L129.2,383.8 L131.3,385.2 L132.7,383.78 L134.1,383.1 L136.2,384.7 L137.6,384.16 L139,382.8 L141.1,383.1 L143.9,379.6 L146,376.8 L148,372 L149.4,367.7 L150.1,355 L150.6,345 L151.5,344 L153.6,344.3 L154.3,350 L155,365 L155.8,376.8 L156.5,376.5 L156.9,345 L157.3,338.4 L159.2,337 L159.2,297.6 L161,297.6 L161,338 L161.5,340 L161.7,384.5 L164.1,388.7 L166,389.9 L167.31,389.6 L168.62,389.29 L169.93,389.28 L171.24,389.6 L172.55,389.6 L173.86,389.6 L175.17,389.6 L176.48,389.6 L177.79,389.6 L179.1,389.6 L180.4,389.6 L181.71,389.6 L183.02,389.6 L184.33,389.6 L185.64,389.24 L186.95,389.6 L188.26,389.6 L189.57,389.6 L190.88,389.6 L192.19,389.18 L193.5,389.9" fill="none" stroke="#000" stroke-width="1" stroke-linejoin="round"/>
<rect x="159.2" y="297.6" width="1.8" height="39.4" fill="#000"/>
<path d="M68.9,375.2H70.8V384.56H71.7L72.1,389.6L72.9,390.8H68.9Z" fill="#000"/>
<path d="M69.3,297.6H193.5V390.8" fill="none" stroke="#000" stroke-width="1.3"/>
<path d="M69.3,297V390.8H193.5" fill="none" stroke="#000" stroke-width="1.8"/>
<path d="M69.3,390.8h-5 M69.3,387.69h-3 M69.3,384.59h-3 M69.3,381.48h-3 M69.3,378.37h-3 M69.3,375.27h-5 M69.3,372.16h-3 M69.3,369.05h-3 M69.3,365.95h-3 M69.3,362.84h-3 M69.3,359.73h-5 M69.3,356.63h-3 M69.3,353.52h-3 M69.3,350.41h-3 M69.3,347.31h-3 M69.3,344.2h-5 M69.3,341.09h-3 M69.3,337.99h-3 M69.3,334.88h-3 M69.3,331.77h-3 M69.3,328.67h-5 M69.3,325.56h-3 M69.3,322.45h-3 M69.3,319.35h-3 M69.3,316.24h-3 M69.3,313.13h-5 M69.3,310.03h-3 M69.3,306.92h-3 M69.3,303.81h-3 M69.3,300.71h-3 M69.3,297.6h-5 M69.8,390.8v6.5 M79.01,390.8v3.5 M84.4,390.8v3.5 M88.22,390.8v3.5 M91.19,390.8v3.5 M93.61,390.8v3.5 M95.66,390.8v3.5 M97.43,390.8v3.5 M99,390.8v3.5 M100.4,390.8v6.5 M109.61,390.8v3.5 M115,390.8v3.5 M118.82,390.8v3.5 M121.79,390.8v3.5 M124.21,390.8v3.5 M126.26,390.8v3.5 M128.03,390.8v3.5 M129.6,390.8v3.5 M131,390.8v6.5 M140.21,390.8v3.5 M145.6,390.8v3.5 M149.42,390.8v3.5 M152.39,390.8v3.5 M154.81,390.8v3.5 M156.86,390.8v3.5 M158.63,390.8v3.5 M160.2,390.8v3.5 M161.6,390.8v6.5 M170.81,390.8v3.5 M176.2,390.8v3.5 M180.02,390.8v3.5 M182.99,390.8v3.5 M185.41,390.8v3.5 M187.46,390.8v3.5 M189.23,390.8v3.5 M190.8,390.8v3.5 M192.2,390.8v6.5" stroke="#000" stroke-width="1.45" fill="none"/>
<text transform="translate(60.1,295.4) rotate(-90)" text-anchor="middle" font-family='"Liberation Sans", sans-serif' font-size="10" letter-spacing="0.6" fill="#000" stroke="#000" stroke-width="0.15">120</text>
<text transform="translate(60.1,387.6) rotate(-90)" text-anchor="middle" font-family='"Liberation Sans", sans-serif' font-size="10" fill="#000" stroke="#000" stroke-width="0.15">0</text>
<text x="61.8" y="408.2" font-family='"Liberation Sans", sans-serif' font-size="10" letter-spacing="0.5" fill="#000" stroke="#000" stroke-width="0.15">10<tspan dy="-5.7" font-size="9.9">0</tspan></text>
<text x="92.4" y="408.2" font-family='"Liberation Sans", sans-serif' font-size="10" letter-spacing="0.5" fill="#000" stroke="#000" stroke-width="0.15">10<tspan dy="-5.7" font-size="9.9">1</tspan></text>
<text x="123" y="408.2" font-family='"Liberation Sans", sans-serif' font-size="10" letter-spacing="0.5" fill="#000" stroke="#000" stroke-width="0.15">10<tspan dy="-5.7" font-size="9.9">2</tspan></text>
<text x="153.6" y="408.2" font-family='"Liberation Sans", sans-serif' font-size="10" letter-spacing="0.5" fill="#000" stroke="#000" stroke-width="0.15">10<tspan dy="-5.7" font-size="9.9">3</tspan></text>
<text x="184.2" y="408.2" font-family='"Liberation Sans", sans-serif' font-size="10" letter-spacing="0.5" fill="#000" stroke="#000" stroke-width="0.15">10<tspan dy="-5.7" font-size="9.9">4</tspan></text>
<path d="M110.7,320V340.8 M155,320V340.8" stroke="#000" stroke-width="1.6"/>
<path d="M110.7,330.2H155" stroke="#000" stroke-width="1.4"/>
<text x="120.8" y="325.8" font-family='"Liberation Sans", sans-serif' font-size="10.2" letter-spacing="1.6" fill="#000" stroke="#000" stroke-width="0.15">60</text>
<text transform="translate(135.9,325.8) scale(1.2,1)" font-family='"Liberation Sans", sans-serif' font-size="10.2" fill="#000" stroke="#000" stroke-width="0.15">%</text>
<path d="M229.5,389.2 L230.9,389.52 L232.3,387.73 L233.7,388.34 L235.1,387.6 L236.73,387.81 L238.37,388.73 L240,388.3 L241.67,388.03 L243.33,388.66 L245,387.9 L246.63,387.02 L248.27,387.91 L249.9,386.8 L252,387.9 L254.6,385 L256.3,386.27 L258,387.8 L259.48,387.34 L260.96,387.61 L262.44,388.06 L263.92,387.18 L265.4,387.9 L266.75,387.13 L268.1,386.7 L269.67,385.67 L271.23,385.45 L272.8,385.8 L274.45,385.41 L276.1,386 L277.45,384.55 L278.8,383.9 L281.5,381.2 L284.2,378.6 L286.2,376 L287.6,372 L289.6,370.8 L291.6,372.3 L293.6,371.3 L295.5,373.6 L297.5,372.4 L299.5,374.2 L300.8,373 L302.3,369.7 L303.9,366 L305.5,361.7 L306.6,355.8 L307.1,350.4 L308.2,345 L308.2,328.7 L309.2,328.7 L309.8,314.5 L310.6,313.8 L311.3,314.5 L311.9,322.2 L312.2,322.2 L313.1,345 L314.1,321 L315,321 L315.8,379.5 L316.4,379.5 L316.9,333 L317.2,331.3 L317.2,297.9 L319,297.9 L319,331.3 L320.5,331.3 L320.5,375.1 L321.1,386.9 L322.7,389.5 L324,390.7 L352.6,390.7 L352.6,391.5 L229.5,391.5 Z" fill="#c3c3c3" stroke="none"/>
<path d="M229.5,389.2 L230.9,389.52 L232.3,387.73 L233.7,388.34 L235.1,387.6 L236.73,387.81 L238.37,388.73 L240,388.3 L241.67,388.03 L243.33,388.66 L245,387.9 L246.63,387.02 L248.27,387.91 L249.9,386.8 L252,387.9 L254.6,385 L256.3,386.27 L258,387.8 L259.48,387.34 L260.96,387.61 L262.44,388.06 L263.92,387.18 L265.4,387.9 L266.75,387.13 L268.1,386.7 L269.67,385.67 L271.23,385.45 L272.8,385.8 L274.45,385.41 L276.1,386 L277.45,384.55 L278.8,383.9 L281.5,381.2 L284.2,378.6 L286.2,376 L287.6,372 L289.6,370.8 L291.6,372.3 L293.6,371.3 L295.5,373.6 L297.5,372.4 L299.5,374.2 L300.8,373 L302.3,369.7 L303.9,366 L305.5,361.7 L306.6,355.8 L307.1,350.4 L308.2,345 L308.2,328.7 L309.2,328.7 L309.8,314.5 L310.6,313.8 L311.3,314.5 L311.9,322.2 L312.2,322.2 L313.1,345 L314.1,321 L315,321 L315.8,379.5 L316.4,379.5 L316.9,333 L317.2,331.3 L317.2,297.9 L319,297.9 L319,331.3 L320.5,331.3 L320.5,375.1 L321.1,386.9 L322.7,389.5 L324,390.7 L352.6,390.7" fill="none" stroke="#000" stroke-width="1" stroke-linejoin="round"/>
<rect x="317.2" y="297.9" width="1.8" height="33.4" fill="#000"/>
<path d="M227.8,346H229.7V373.3H230.6L231,390.3L231.8,391.5H227.8Z" fill="#000"/>
<path d="M228.2,297.9H352.6V391.5" fill="none" stroke="#000" stroke-width="1.3"/>
<path d="M228.2,297.3V391.5H352.6" fill="none" stroke="#000" stroke-width="1.8"/>
<path d="M228.2,391.5h-5 M228.2,388.38h-3 M228.2,385.26h-3 M228.2,382.14h-3 M228.2,379.02h-3 M228.2,375.9h-5 M228.2,372.78h-3 M228.2,369.66h-3 M228.2,366.54h-3 M228.2,363.42h-3 M228.2,360.3h-5 M228.2,357.18h-3 M228.2,354.06h-3 M228.2,350.94h-3 M228.2,347.82h-3 M228.2,344.7h-5 M228.2,341.58h-3 M228.2,338.46h-3 M228.2,335.34h-3 M228.2,332.22h-3 M228.2,329.1h-5 M228.2,325.98h-3 M228.2,322.86h-3 M228.2,319.74h-3 M228.2,316.62h-3 M228.2,313.5h-5 M228.2,310.38h-3 M228.2,307.26h-3 M228.2,304.14h-3 M228.2,301.02h-3 M228.2,297.9h-5 M228.7,391.5v6.5 M237.93,391.5v3.5 M243.32,391.5v3.5 M247.15,391.5v3.5 M250.12,391.5v3.5 M252.55,391.5v3.5 M254.6,391.5v3.5 M256.38,391.5v3.5 M257.95,391.5v3.5 M259.35,391.5v6.5 M268.58,391.5v3.5 M273.97,391.5v3.5 M277.8,391.5v3.5 M280.77,391.5v3.5 M283.2,391.5v3.5 M285.25,391.5v3.5 M287.03,391.5v3.5 M288.6,391.5v3.5 M290,391.5v6.5 M299.23,391.5v3.5 M304.62,391.5v3.5 M308.45,391.5v3.5 M311.42,391.5v3.5 M313.85,391.5v3.5 M315.9,391.5v3.5 M317.68,391.5v3.5 M319.25,391.5v3.5 M320.65,391.5v6.5 M329.88,391.5v3.5 M335.27,391.5v3.5 M339.1,391.5v3.5 M342.07,391.5v3.5 M344.5,391.5v3.5 M346.55,391.5v3.5 M348.33,391.5v3.5 M349.9,391.5v3.5 M351.3,391.5v6.5" stroke="#000" stroke-width="1.45" fill="none"/>
<text transform="translate(219,295.7) rotate(-90)" text-anchor="middle" font-family='"Liberation Sans", sans-serif' font-size="10" letter-spacing="0.6" fill="#000" stroke="#000" stroke-width="0.15">120</text>
<text transform="translate(219,388.3) rotate(-90)" text-anchor="middle" font-family='"Liberation Sans", sans-serif' font-size="10" fill="#000" stroke="#000" stroke-width="0.15">0</text>
<text x="220.7" y="408.7" font-family='"Liberation Sans", sans-serif' font-size="10" letter-spacing="0.5" fill="#000" stroke="#000" stroke-width="0.15">10<tspan dy="-5.7" font-size="9.9">0</tspan></text>
<text x="251.35" y="408.7" font-family='"Liberation Sans", sans-serif' font-size="10" letter-spacing="0.5" fill="#000" stroke="#000" stroke-width="0.15">10<tspan dy="-5.7" font-size="9.9">1</tspan></text>
<text x="282" y="408.7" font-family='"Liberation Sans", sans-serif' font-size="10" letter-spacing="0.5" fill="#000" stroke="#000" stroke-width="0.15">10<tspan dy="-5.7" font-size="9.9">2</tspan></text>
<text x="312.65" y="408.7" font-family='"Liberation Sans", sans-serif' font-size="10" letter-spacing="0.5" fill="#000" stroke="#000" stroke-width="0.15">10<tspan dy="-5.7" font-size="9.9">3</tspan></text>
<text x="343.3" y="408.7" font-family='"Liberation Sans", sans-serif' font-size="10" letter-spacing="0.5" fill="#000" stroke="#000" stroke-width="0.15">10<tspan dy="-5.7" font-size="9.9">4</tspan></text>
<path d="M270.2,320.5V341.4 M314.7,320.5V341.4" stroke="#000" stroke-width="1.6"/>
<path d="M270.2,331.2H314.7" stroke="#000" stroke-width="1.4"/>
<text x="276.1" y="326.8" font-family='"Liberation Sans", sans-serif' font-size="10.2" letter-spacing="1.6" fill="#000" stroke="#000" stroke-width="0.15">75</text>
<text transform="translate(290.5,326.8) scale(1.2,1)" font-family='"Liberation Sans", sans-serif' font-size="10.2" fill="#000" stroke="#000" stroke-width="0.15">%</text>
<path d="M389,391.2 L400,391.2 L418,391.1 L425.4,389.6 L426.75,389.09 L428.1,390.05 L429.45,389.97 L430.8,388.48 L432.15,389.62 L433.5,389 L435,388.62 L436.5,387.87 L438,386.17 L439.5,386.2 L440.85,387.84 L442.2,388.5 L443.6,387.77 L445,387.4 L446.3,387.01 L447.6,385.7 L449.03,386.05 L450.47,386.69 L451.9,386.6 L453.6,386.04 L455.3,384.8 L457.9,383.1 L459.7,381.4 L461.4,383.1 L464,376.2 L465.7,371.9 L466.6,362 L467.3,352.6 L468.6,352 L469.6,354 L470.6,353.5 L471.3,357 L471.8,366.7 L472.6,374.5 L473.4,358.1 L474.5,322.1 L475.5,322.1 L475.5,298.7 L477.7,298.7 L477.7,337.6 L478.7,337.6 L478.7,385.7 L480.3,390 L482,391.1 L510.8,391.1 L510.8,392 L389,392 Z" fill="#c3c3c3" stroke="none"/>
<path d="M389,391.2 L400,391.2 L418,391.1 L425.4,389.6 L426.75,389.09 L428.1,390.05 L429.45,389.97 L430.8,388.48 L432.15,389.62 L433.5,389 L435,388.62 L436.5,387.87 L438,386.17 L439.5,386.2 L440.85,387.84 L442.2,388.5 L443.6,387.77 L445,387.4 L446.3,387.01 L447.6,385.7 L449.03,386.05 L450.47,386.69 L451.9,386.6 L453.6,386.04 L455.3,384.8 L457.9,383.1 L459.7,381.4 L461.4,383.1 L464,376.2 L465.7,371.9 L466.6,362 L467.3,352.6 L468.6,352 L469.6,354 L470.6,353.5 L471.3,357 L471.8,366.7 L472.6,374.5 L473.4,358.1 L474.5,322.1 L475.5,322.1 L475.5,298.7 L477.7,298.7 L477.7,337.6 L478.7,337.6 L478.7,385.7 L480.3,390 L482,391.1 L510.8,391.1" fill="none" stroke="#000" stroke-width="1" stroke-linejoin="round"/>
<rect x="475.7" y="298.7" width="1.8" height="23.4" fill="#000"/>
<path d="M386.9,388H388.8V390.4H389.7L390.1,390.8L390.9,392H386.9Z" fill="#000"/>
<path d="M387.3,298.7H510.8V392" fill="none" stroke="#000" stroke-width="1.3"/>
<path d="M387.3,298.1V392H510.8" fill="none" stroke="#000" stroke-width="1.8"/>
<path d="M387.3,392h-5 M387.3,388.89h-3 M387.3,385.78h-3 M387.3,382.67h-3 M387.3,379.56h-3 M387.3,376.45h-5 M387.3,373.34h-3 M387.3,370.23h-3 M387.3,367.12h-3 M387.3,364.01h-3 M387.3,360.9h-5 M387.3,357.79h-3 M387.3,354.68h-3 M387.3,351.57h-3 M387.3,348.46h-3 M387.3,345.35h-5 M387.3,342.24h-3 M387.3,339.13h-3 M387.3,336.02h-3 M387.3,332.91h-3 M387.3,329.8h-5 M387.3,326.69h-3 M387.3,323.58h-3 M387.3,320.47h-3 M387.3,317.36h-3 M387.3,314.25h-5 M387.3,311.14h-3 M387.3,308.03h-3 M387.3,304.92h-3 M387.3,301.81h-3 M387.3,298.7h-5 M387.8,392v6.5 M396.96,392v3.5 M402.32,392v3.5 M406.12,392v3.5 M409.07,392v3.5 M411.48,392v3.5 M413.51,392v3.5 M415.28,392v3.5 M416.83,392v3.5 M418.23,392v6.5 M427.38,392v3.5 M432.74,392v3.5 M436.54,392v3.5 M439.49,392v3.5 M441.9,392v3.5 M443.94,392v3.5 M445.7,392v3.5 M447.26,392v3.5 M448.65,392v6.5 M457.81,392v3.5 M463.17,392v3.5 M466.97,392v3.5 M469.92,392v3.5 M472.33,392v3.5 M474.36,392v3.5 M476.13,392v3.5 M477.68,392v3.5 M479.07,392v6.5 M488.23,392v3.5 M493.59,392v3.5 M497.39,392v3.5 M500.34,392v3.5 M502.75,392v3.5 M504.79,392v3.5 M506.55,392v3.5 M508.11,392v3.5 M509.5,392v6.5" stroke="#000" stroke-width="1.45" fill="none"/>
<text transform="translate(378.1,296.5) rotate(-90)" text-anchor="middle" font-family='"Liberation Sans", sans-serif' font-size="10" letter-spacing="0.6" fill="#000" stroke="#000" stroke-width="0.15">120</text>
<text transform="translate(378.1,388.8) rotate(-90)" text-anchor="middle" font-family='"Liberation Sans", sans-serif' font-size="10" fill="#000" stroke="#000" stroke-width="0.15">0</text>
<text x="379.8" y="409.3" font-family='"Liberation Sans", sans-serif' font-size="10" letter-spacing="0.5" fill="#000" stroke="#000" stroke-width="0.15">10<tspan dy="-5.7" font-size="9.9">0</tspan></text>
<text x="410.23" y="409.3" font-family='"Liberation Sans", sans-serif' font-size="10" letter-spacing="0.5" fill="#000" stroke="#000" stroke-width="0.15">10<tspan dy="-5.7" font-size="9.9">1</tspan></text>
<text x="440.65" y="409.3" font-family='"Liberation Sans", sans-serif' font-size="10" letter-spacing="0.5" fill="#000" stroke="#000" stroke-width="0.15">10<tspan dy="-5.7" font-size="9.9">2</tspan></text>
<text x="471.07" y="409.3" font-family='"Liberation Sans", sans-serif' font-size="10" letter-spacing="0.5" fill="#000" stroke="#000" stroke-width="0.15">10<tspan dy="-5.7" font-size="9.9">3</tspan></text>
<text x="501.5" y="409.3" font-family='"Liberation Sans", sans-serif' font-size="10" letter-spacing="0.5" fill="#000" stroke="#000" stroke-width="0.15">10<tspan dy="-5.7" font-size="9.9">4</tspan></text>
<path d="M429,323.5V343.4 M473.3,323.5V343.4" stroke="#000" stroke-width="1.6"/>
<path d="M429,333.4H473.3" stroke="#000" stroke-width="1.4"/>
<text x="439.8" y="328.1" font-family='"Liberation Sans", sans-serif' font-size="10.2" letter-spacing="1.6" fill="#000" stroke="#000" stroke-width="0.15">32</text>
<text transform="translate(454.6,328.1) scale(1.2,1)" font-family='"Liberation Sans", sans-serif' font-size="10.2" fill="#000" stroke="#000" stroke-width="0.15">%</text>
</svg>
</body></html>
